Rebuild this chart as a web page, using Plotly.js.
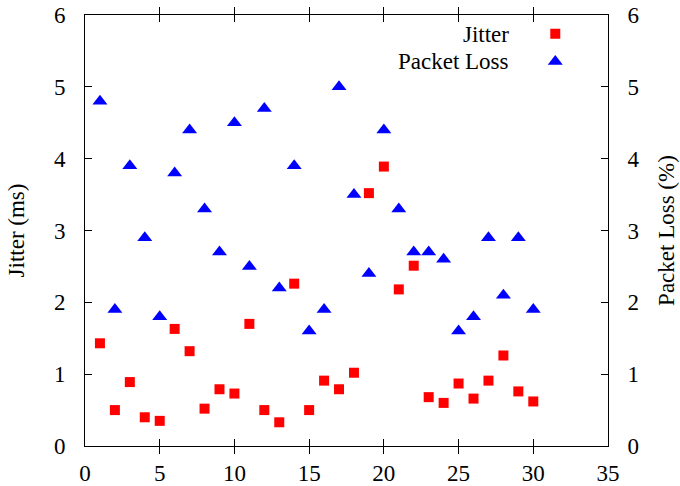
<!DOCTYPE html>
<html><head><meta charset="utf-8">
<script src="https://cdn.plot.ly/plotly-3.0.1.min.js"></script>
<style>html,body{margin:0;padding:0;background:#fff;}#chart{width:680px;height:486px;}</style>
</head><body><div id="chart"></div>
<script>
const runs = [1,2,3,4,5,6,7,8,9,10,11,12,13,14,15,16,17,18,19,20,21,22,23,24,25,26,27,28,29,30];
const jitter = [1.43,0.50,0.89,0.40,0.35,1.63,1.32,0.52,0.79,0.73,1.70,0.50,0.33,2.26,0.50,0.91,0.79,1.02,3.52,3.89,2.18,2.51,0.68,0.60,0.87,0.66,0.91,1.26,0.76,0.62];
const packetLoss = [4.8,1.9,3.9,2.9,1.8,3.8,4.4,3.3,2.7,4.5,2.5,4.7,2.2,3.9,1.6,1.9,5.0,3.5,2.4,4.4,3.3,2.7,2.7,2.6,1.6,1.8,2.9,2.1,2.9,1.9];
const seriesNames = ['Jitter','Packet Loss'];
const xTicks = [0,5,10,15,20,25,30,35];
const yTicks = [0,1,2,3,4,5,6];

const font = {family:'"Liberation Serif", "DejaVu Serif", serif', size:23, color:'#000'};
const traces = [
  {x:runs, y:jitter, type:'scatter', mode:'markers', name:'', xaxis:'x', yaxis:'y',
   marker:{symbol:'square', size:10, color:'#ff0000'}},
  {x:runs, y:packetLoss, type:'scatter', mode:'markers', name:'', xaxis:'x', yaxis:'y2',
   marker:{symbol:'triangle-up', size:13, color:'#0000ff'}}
];
const axisCommon = {showgrid:false, zeroline:false, showline:true, linecolor:'#000', linewidth:1,
  ticks:'inside', ticklen:7, tickcolor:'#000', tickfont:font};
const layout = {
  width:680, height:486, font:font,
  margin:{l:85, r:72, t:15, b:40},
  paper_bgcolor:'#fff', plot_bgcolor:'#fff',
  showlegend:true,
  legend:{x:0.947, xanchor:'right', y:1.0, yanchor:'top', bgcolor:'rgba(0,0,0,0)',
    font:Object.assign({}, font, {size:19}), itemwidth:30, tracegroupgap:0},
  xaxis:Object.assign({}, axisCommon, {range:[0,35], tickvals:xTicks, mirror:'allticks', ticklabelstandoff:6}),
  yaxis:Object.assign({}, axisCommon, {range:[0,6], tickvals:yTicks, mirror:'allticks', ticklabelstandoff:14,
    title:{text:'Jitter (ms)', font:font, standoff:22}}),
  yaxis2:Object.assign({}, axisCommon, {range:[0,6], tickvals:yTicks, overlaying:'y', side:'right', ticks:'', ticklabelstandoff:14,
    title:{text:'Packet Loss (%)', font:font, standoff:19}}),
  annotations:[
    {xref:'paper', yref:'paper', x:0.814, y:0.955, xanchor:'right', yanchor:'middle', text:seriesNames[0], showarrow:false, font:font},
    {xref:'paper', yref:'paper', x:0.814, y:0.893, xanchor:'right', yanchor:'middle', text:seriesNames[1], showarrow:false, font:font}
  ]
};
Plotly.newPlot('chart', traces, layout, {displayModeBar:false, staticPlot:true});
</script></body></html>
